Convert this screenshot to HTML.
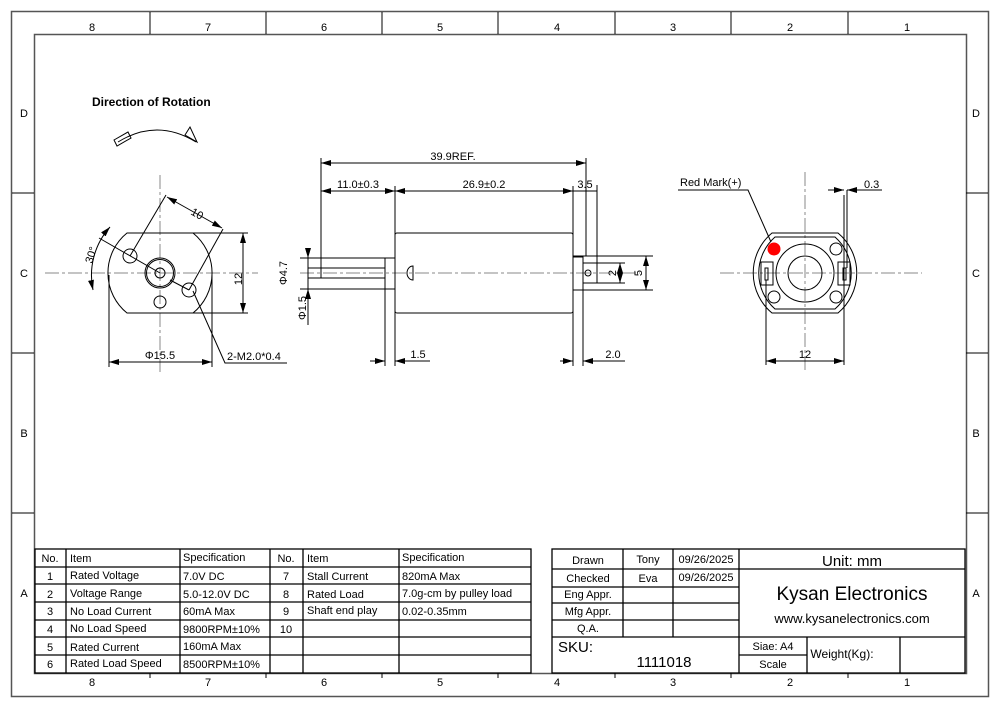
<!DOCTYPE html>
<html><head><meta charset="utf-8"><style>
html,body{margin:0;padding:0;background:#fff}
svg{display:block}
text{font-family:"Liberation Sans",Arial,sans-serif;fill:#000}
</style></head><body>
<svg width="1000" height="707" viewBox="0 0 1000 707" xmlns="http://www.w3.org/2000/svg">
<defs>
<marker id="a" viewBox="0 0 10 6" refX="10" refY="3" markerWidth="10" markerHeight="6" orient="auto-start-reverse" markerUnits="userSpaceOnUse"><path d="M0,0 L10,3 L0,6 z" fill="#000"/></marker>
</defs>
<rect x="11.5" y="11.5" width="977" height="685" fill="none" stroke="#555" stroke-width="1.5"/>
<rect x="34.5" y="34.5" width="932" height="639" fill="none" stroke="#555" stroke-width="1.5"/>
<g stroke="#000" stroke-width="1">
<line x1="150" y1="12" x2="150" y2="34"/><line x1="266" y1="12" x2="266" y2="34"/><line x1="382" y1="12" x2="382" y2="34"/><line x1="498" y1="12" x2="498" y2="34"/><line x1="615" y1="12" x2="615" y2="34"/><line x1="731" y1="12" x2="731" y2="34"/><line x1="848" y1="12" x2="848" y2="34"/>
<line x1="150" y1="673" x2="150" y2="678"/><line x1="266" y1="673" x2="266" y2="678"/><line x1="382" y1="673" x2="382" y2="678"/><line x1="498" y1="673" x2="498" y2="678"/><line x1="615" y1="673" x2="615" y2="678"/><line x1="731" y1="673" x2="731" y2="678"/><line x1="848" y1="673" x2="848" y2="678"/>
<line x1="12" y1="193" x2="34" y2="193"/><line x1="12" y1="353" x2="34" y2="353"/><line x1="12" y1="513" x2="34" y2="513"/>
<line x1="966" y1="193" x2="988" y2="193"/><line x1="966" y1="353" x2="988" y2="353"/><line x1="966" y1="513" x2="988" y2="513"/>
</g>
<g font-size="11" text-anchor="middle">
<text x="92" y="31">8</text><text x="208" y="31">7</text><text x="324" y="31">6</text><text x="440" y="31">5</text><text x="557" y="31">4</text><text x="673" y="31">3</text><text x="790" y="31">2</text><text x="907" y="31">1</text>
<text x="92" y="686">8</text><text x="208" y="686">7</text><text x="324" y="686">6</text><text x="440" y="686">5</text><text x="557" y="686">4</text><text x="673" y="686">3</text><text x="790" y="686">2</text><text x="907" y="686">1</text>
<text x="24" y="117">D</text><text x="24" y="277">C</text><text x="24" y="437">B</text><text x="24" y="597">A</text>
<text x="976" y="117">D</text><text x="976" y="277">C</text><text x="976" y="437">B</text><text x="976" y="597">A</text>
</g>

<text x="92" y="106" font-size="12" font-weight="bold">Direction of Rotation</text>
<g fill="none" stroke="#000" stroke-width="1">
<path d="M118,142 Q157,118 196,142"/>
<path d="M114,140 L128,132 L131,138 L117,146 Z"/>
<path d="M185,135 L190,127 L197,142 Z"/>
</g>

<!-- left view -->
<g fill="none" stroke="#000" stroke-width="1">
<line x1="45" y1="273" x2="258" y2="273" stroke="#888" stroke-dasharray="14,3,3,3"/>
<line x1="160" y1="175" x2="160" y2="372" stroke="#888" stroke-dasharray="14,3,3,3"/>
<path d="M127,233 L193,233 A51.5,51.5 0 0 1 193,313 L127,313 A51.5,51.5 0 0 1 127,233 Z"/>
<circle cx="130" cy="256" r="7"/><circle cx="189" cy="290" r="7"/><circle cx="160" cy="302" r="6"/>
<circle cx="160" cy="273" r="15"/><circle cx="160" cy="273" r="13.5"/><circle cx="160" cy="273" r="5"/>
<line x1="160" y1="273" x2="99" y2="238"/><line x1="130" y1="256" x2="166" y2="195"/><line x1="189" y1="290" x2="223" y2="229"/><line x1="170" y1="280" x2="189" y2="290"/>
<line x1="167" y1="197" x2="222" y2="228" marker-start="url(#a)" marker-end="url(#a)"/>
<path d="M110,227 A72,72 0 0 0 93,290" marker-start="url(#a)" marker-end="url(#a)"/>
<line x1="193" y1="233" x2="248" y2="233"/><line x1="193" y1="313" x2="248" y2="313"/>
<line x1="243" y1="233" x2="243" y2="313" marker-start="url(#a)" marker-end="url(#a)"/>
<line x1="109" y1="275" x2="109" y2="367"/><line x1="212" y1="275" x2="212" y2="367"/>
<line x1="109" y1="362" x2="212" y2="362" marker-start="url(#a)" marker-end="url(#a)"/>
<polyline points="193,291 225,363 287,363"/>
</g>
<text x="190" y="214" font-size="11" transform="rotate(29 190 214)">10</text>
<text x="92" y="264" font-size="11" transform="rotate(-72 92 264)">30°</text>
<text x="242" y="279" font-size="11" transform="rotate(-90 242 279)" text-anchor="middle">12</text>
<text x="160" y="359" font-size="11" text-anchor="middle">Φ15.5</text>
<text x="227" y="360" font-size="11">2-M2.0*0.4</text>

<!-- center view -->
<g fill="none" stroke="#000" stroke-width="1">
<line x1="300" y1="273" x2="640" y2="273" stroke="#888" stroke-dasharray="14,3,3,3"/>
<rect x="395" y="233" width="178" height="80" rx="2"/>
<line x1="300" y1="258" x2="395" y2="258"/><line x1="300" y1="289" x2="395" y2="289"/>
<line x1="308" y1="268" x2="385" y2="268"/><line x1="308" y1="278" x2="385" y2="278"/>
<line x1="321" y1="268" x2="321" y2="278"/>
<line x1="385" y1="258" x2="385" y2="366"/>
<line x1="308" y1="250" x2="308" y2="258" marker-end="url(#a)"/>
<line x1="308" y1="302" x2="308" y2="289" marker-end="url(#a)"/>
<line x1="308" y1="289" x2="308" y2="325"/>
<line x1="308" y1="258" x2="308" y2="289"/>
<path d="M413,266 A6,7 0 0 0 413,280 Z"/>
<line x1="321" y1="158" x2="321" y2="268"/><line x1="395" y1="186" x2="395" y2="366"/>
<line x1="573" y1="186" x2="573" y2="366"/><line x1="586" y1="158" x2="586" y2="256"/><line x1="597" y1="185" x2="597" y2="263"/>
<line x1="321" y1="163" x2="586" y2="163" marker-start="url(#a)" marker-end="url(#a)"/>
<line x1="321" y1="191" x2="395" y2="191" marker-start="url(#a)" marker-end="url(#a)"/>
<line x1="395" y1="191" x2="573" y2="191" marker-start="url(#a)" marker-end="url(#a)"/>
<line x1="573" y1="191" x2="597" y2="191"/>
<rect x="573" y="257" width="10" height="33"/><line x1="573" y1="256" x2="653" y2="256"/><line x1="573" y1="290" x2="653" y2="290"/>
<rect x="583" y="263" width="14" height="20"/><circle cx="588" cy="273" r="3"/>
<line x1="597" y1="263" x2="625" y2="263"/><line x1="597" y1="283" x2="625" y2="283"/>
<line x1="620" y1="263" x2="620" y2="283" marker-start="url(#a)" marker-end="url(#a)"/>
<line x1="646" y1="256" x2="646" y2="290" marker-start="url(#a)" marker-end="url(#a)"/>
<line x1="370" y1="361" x2="385" y2="361" marker-end="url(#a)"/><line x1="410" y1="361" x2="395" y2="361" marker-end="url(#a)"/><line x1="395" y1="361" x2="430" y2="361"/>
<line x1="560" y1="361" x2="573" y2="361" marker-end="url(#a)"/><line x1="597" y1="361" x2="583" y2="361" marker-end="url(#a)"/><line x1="583" y1="361" x2="625" y2="361"/>
<line x1="583" y1="290" x2="583" y2="366"/>
</g>
<text x="453" y="160" font-size="11" text-anchor="middle">39.9REF.</text>
<text x="358" y="188" font-size="11" text-anchor="middle">11.0±0.3</text>
<text x="484" y="188" font-size="11" text-anchor="middle">26.9±0.2</text>
<text x="585" y="188" font-size="11" text-anchor="middle">3.5</text>
<text x="287" y="273" font-size="11" transform="rotate(-90 287 273)" text-anchor="middle">Φ4.7</text>
<text x="306" y="308" font-size="11" transform="rotate(-90 306 308)" text-anchor="middle">Φ1.5</text>
<text x="418" y="358" font-size="11" text-anchor="middle">1.5</text>
<text x="613" y="358" font-size="11" text-anchor="middle">2.0</text>
<text x="616" y="273" font-size="11" transform="rotate(-90 616 273)" text-anchor="middle">2</text>
<text x="642" y="273" font-size="11" transform="rotate(-90 642 273)" text-anchor="middle">5</text>

<!-- right view -->
<g fill="none" stroke="#000" stroke-width="1">
<line x1="720" y1="273" x2="922" y2="273" stroke="#888" stroke-dasharray="14,3,3,3"/>
<line x1="805" y1="172" x2="805" y2="372" stroke="#888" stroke-dasharray="14,3,3,3"/>
<path d="M772,233 L838,233 A52,52 0 0 1 838,313 L772,313 A52,52 0 0 1 772,233 Z"/>
<path d="M775,237 L835,237 A48,48 0 0 1 835,309 L775,309 A48,48 0 0 1 775,237 Z"/>
<circle cx="805" cy="273" r="29"/><circle cx="805" cy="273" r="17"/>
<circle cx="836" cy="249" r="6"/><circle cx="774" cy="297" r="6"/><circle cx="836" cy="297" r="6"/>
<rect x="761" y="262" width="12" height="23"/><rect x="765" y="268" width="3" height="12"/>
<rect x="838" y="262" width="12" height="23"/><rect x="843" y="268" width="3" height="12"/>
<polyline points="678,190 748,190 771,242"/>
<line x1="766" y1="280" x2="766" y2="365"/><line x1="844" y1="195" x2="844" y2="365"/><line x1="847" y1="190" x2="847" y2="268"/>
<line x1="766" y1="361" x2="844" y2="361" marker-start="url(#a)" marker-end="url(#a)"/>
<line x1="828" y1="190" x2="844" y2="190" marker-end="url(#a)"/><line x1="862" y1="190" x2="847" y2="190" marker-end="url(#a)"/><line x1="847" y1="190" x2="882" y2="190"/>
</g>
<circle cx="774" cy="249" r="6.5" fill="#f00"/>
<text x="680" y="186" font-size="11">Red Mark(+)</text>
<text x="864" y="188" font-size="11">0.3</text>
<text x="805" y="358" font-size="11" text-anchor="middle">12</text>

<!-- left table -->
<g fill="none" stroke="#000" stroke-width="1.3">
<rect x="35" y="549" width="496" height="124"/>
<line x1="35" y1="567" x2="531" y2="567"/><line x1="35" y1="584" x2="531" y2="584"/><line x1="35" y1="602" x2="531" y2="602"/><line x1="35" y1="620" x2="531" y2="620"/><line x1="35" y1="637" x2="531" y2="637"/><line x1="35" y1="655" x2="531" y2="655"/>
<line x1="66" y1="549" x2="66" y2="673"/><line x1="180" y1="549" x2="180" y2="673"/><line x1="270" y1="549" x2="270" y2="673"/><line x1="303" y1="549" x2="303" y2="673"/><line x1="399" y1="549" x2="399" y2="673"/>
</g>
<g font-size="11">
<text x="50" y="562" text-anchor="middle">No.</text><text x="70" y="562">Item</text><text x="183" y="561">Specification</text><text x="286" y="562" text-anchor="middle">No.</text><text x="307" y="562">Item</text><text x="402" y="561">Specification</text>
<text x="50" y="580" text-anchor="middle">1</text><text x="70" y="579">Rated Voltage</text><text x="183" y="580">7.0V DC</text><text x="286" y="580" text-anchor="middle">7</text><text x="307" y="580">Stall Current</text><text x="402" y="580">820mA Max</text>
<text x="50" y="598" text-anchor="middle">2</text><text x="70" y="597">Voltage Range</text><text x="183" y="598">5.0-12.0V DC</text><text x="286" y="598" text-anchor="middle">8</text><text x="307" y="598">Rated Load</text><text x="402" y="597">7.0g-cm by pulley load</text>
<text x="50" y="615" text-anchor="middle">3</text><text x="70" y="615">No Load Current</text><text x="183" y="615">60mA Max</text><text x="286" y="615" text-anchor="middle">9</text><text x="307" y="614">Shaft end play</text><text x="402" y="615">0.02-0.35mm</text>
<text x="50" y="633" text-anchor="middle">4</text><text x="70" y="632">No Load Speed</text><text x="183" y="633">9800RPM±10%</text><text x="286" y="633" text-anchor="middle">10</text>
<text x="50" y="651" text-anchor="middle">5</text><text x="70" y="651">Rated Current</text><text x="183" y="650">160mA Max</text>
<text x="50" y="668" text-anchor="middle">6</text><text x="70" y="667">Rated Load Speed</text><text x="183" y="668">8500RPM±10%</text>
</g>

<!-- right table -->
<g fill="none" stroke="#000" stroke-width="1.3">
<rect x="552" y="549" width="413" height="124"/>
<line x1="552" y1="569" x2="965" y2="569"/>
<line x1="552" y1="587" x2="739" y2="587"/><line x1="552" y1="603" x2="739" y2="603"/><line x1="552" y1="620" x2="739" y2="620"/>
<line x1="552" y1="637" x2="965" y2="637"/><line x1="739" y1="655" x2="807" y2="655"/>
<line x1="623" y1="549" x2="623" y2="637"/><line x1="673" y1="549" x2="673" y2="637"/><line x1="739" y1="549" x2="739" y2="673"/>
<line x1="807" y1="637" x2="807" y2="673"/><line x1="900" y1="637" x2="900" y2="673"/>
</g>
<g font-size="11" text-anchor="middle">
<text x="588" y="564">Drawn</text><text x="648" y="563">Tony</text><text x="706" y="563">09/26/2025</text>
<text x="588" y="582">Checked</text><text x="648" y="582">Eva</text><text x="706" y="581">09/26/2025</text>
<text x="588" y="598">Eng Appr.</text><text x="588" y="615">Mfg Appr.</text><text x="588" y="632">Q.A.</text>
<text x="852" y="566" font-size="15">Unit: mm</text>
<text x="852" y="600" font-size="19">Kysan Electronics</text>
<text x="852" y="623" font-size="13">www.kysanelectronics.com</text>
<text x="773" y="650">Siae: A4</text><text x="773" y="668">Scale</text>
<text x="842" y="658" font-size="12">Weight(Kg):</text>
<text x="664" y="667" font-size="15">1111018</text>
</g>
<text x="558" y="652" font-size="15">SKU:</text>
</svg>
</body></html>
